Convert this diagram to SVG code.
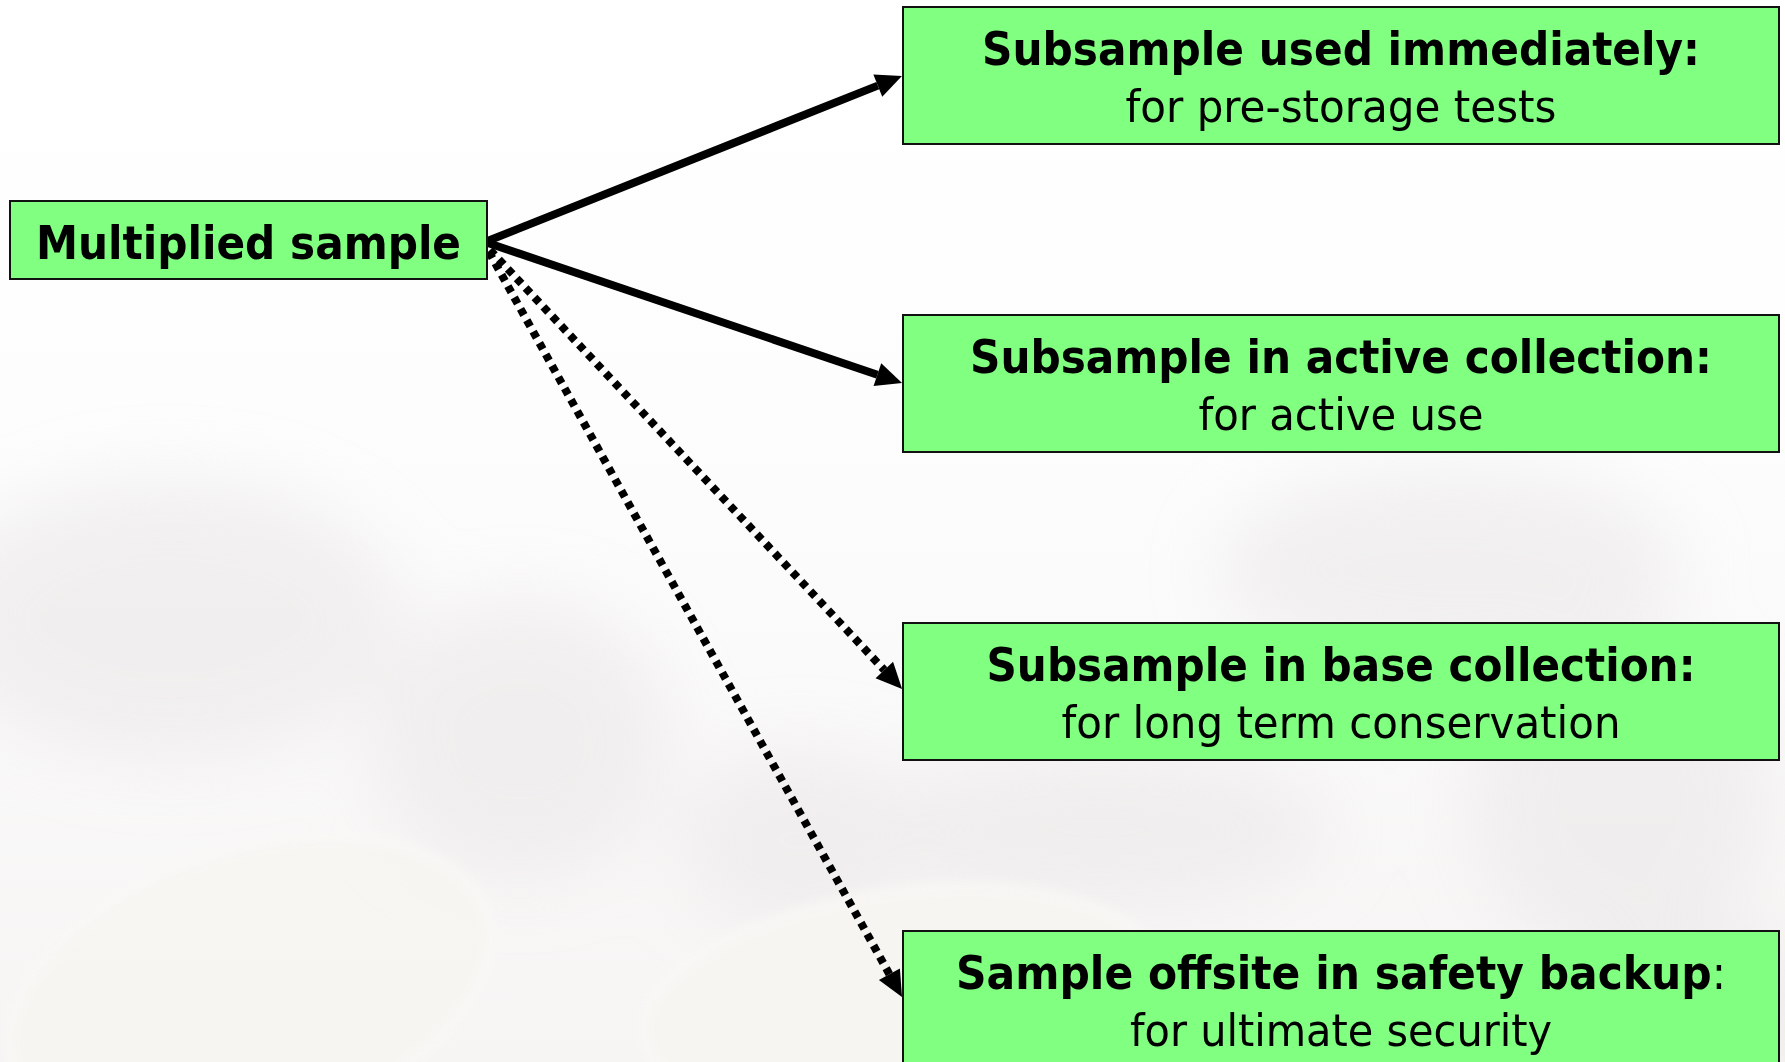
<svg xmlns="http://www.w3.org/2000/svg" width="1785" height="1062" viewBox="0 0 1785 1062">
  <style>
    .box { fill: #80ff80; stroke: #111; stroke-width: 2; }
    .title { font-family: "DejaVu Sans Condensed", "DejaVu Sans", sans-serif; font-weight: bold; font-size: 47px; fill: #000; }
    .sub { font-family: "DejaVu Sans Condensed", "DejaVu Sans", sans-serif; font-size: 45px; fill: #000; }
    .plain { font-weight: normal; }
    .solid { stroke: #000; stroke-width: 8; fill: none; marker-end: url(#head); }
    .dotted { stroke: #000; stroke-width: 8; fill: none; stroke-dasharray: 7 6; marker-end: url(#head); }
  </style>
  <defs>
    <marker id="head" markerUnits="userSpaceOnUse" markerWidth="30" markerHeight="26" refX="0" refY="12" orient="auto" overflow="visible">
      <path d="M0,0 L26,12 L0,24 z" fill="#000"/>
    </marker>
    <filter id="soft" x="-50%" y="-50%" width="200%" height="200%">
      <feGaussianBlur stdDeviation="35"/>
    </filter>
    <filter id="edge" x="-20%" y="-20%" width="140%" height="140%">
      <feGaussianBlur stdDeviation="6"/>
    </filter>
    <linearGradient id="fade" x1="0" y1="0" x2="0" y2="1">
      <stop offset="0" stop-color="#ffffff"/>
      <stop offset="0.38" stop-color="#fdfdfd"/>
      <stop offset="1" stop-color="#f6f5f4"/>
    </linearGradient>
  </defs>

  <!-- faint seed backdrop -->
  <g id="backdrop">
    <rect x="0" y="0" width="1785" height="1062" fill="url(#fade)"/>
    <g filter="url(#soft)" fill="#e9e6e6" opacity="0.55">
      <ellipse cx="170" cy="620" rx="230" ry="140"/>
      <ellipse cx="520" cy="740" rx="150" ry="140"/>
      <ellipse cx="1450" cy="570" rx="230" ry="100"/>
      <ellipse cx="1620" cy="800" rx="150" ry="160"/>
      <ellipse cx="1100" cy="830" rx="230" ry="80"/>
      <ellipse cx="800" cy="840" rx="120" ry="90"/>
      <ellipse cx="1700" cy="1010" rx="130" ry="80"/>
    </g>
    <!-- seed shells -->
    <g filter="url(#edge)" fill="#f7f5f2" stroke="#fcfbf9" stroke-width="4" opacity="0.9">
      <ellipse cx="250" cy="990" rx="250" ry="140" transform="rotate(-18 250 990)"/>
      <ellipse cx="900" cy="1000" rx="260" ry="110" transform="rotate(-8 900 1000)"/>
    </g>
  </g>

  <!-- connectors -->
  <g id="connectors">
    <line class="solid" x1="485" y1="242" x2="877.8" y2="85.6"/>
    <line class="solid" x1="485" y1="242" x2="877.4" y2="374.7"/>
    <line class="dotted" x1="490" y1="250" x2="884.3" y2="670"/>
    <line class="dotted" x1="489" y1="252" x2="889.4" y2="974.2"/>
  </g>

  <g id="multiplied-sample">
    <rect class="box" x="10" y="201" width="477" height="78"/>
    <text class="title" x="36" y="259" textLength="425" lengthAdjust="spacingAndGlyphs">Multiplied sample</text>
  </g>

  <g id="used-immediately">
    <rect class="box" x="903" y="7" width="876" height="137"/>
    <text class="title" x="1341" y="65" text-anchor="middle" textLength="718" lengthAdjust="spacingAndGlyphs">Subsample used immediately:</text>
    <text class="sub" x="1341" y="122" text-anchor="middle" textLength="431" lengthAdjust="spacingAndGlyphs">for pre-storage tests</text>
  </g>

  <g id="active-collection">
    <rect class="box" x="903" y="315" width="876" height="137"/>
    <text class="title" x="1341" y="373" text-anchor="middle" textLength="742" lengthAdjust="spacingAndGlyphs">Subsample in active collection:</text>
    <text class="sub" x="1341" y="430" text-anchor="middle" textLength="285" lengthAdjust="spacingAndGlyphs">for active use</text>
  </g>

  <g id="base-collection">
    <rect class="box" x="903" y="623" width="876" height="137"/>
    <text class="title" x="1341" y="681" text-anchor="middle" textLength="709" lengthAdjust="spacingAndGlyphs">Subsample in base collection:</text>
    <text class="sub" x="1341" y="738" text-anchor="middle" textLength="559" lengthAdjust="spacingAndGlyphs">for long term conservation</text>
  </g>

  <g id="safety-backup">
    <rect class="box" x="903" y="931" width="876" height="137"/>
    <text class="title" x="1341" y="989" text-anchor="middle" textLength="770" lengthAdjust="spacingAndGlyphs">Sample offsite in safety backup<tspan class="plain">:</tspan></text>
    <text class="sub" x="1341" y="1046" text-anchor="middle" textLength="422" lengthAdjust="spacingAndGlyphs">for ultimate security</text>
  </g>
</svg>
